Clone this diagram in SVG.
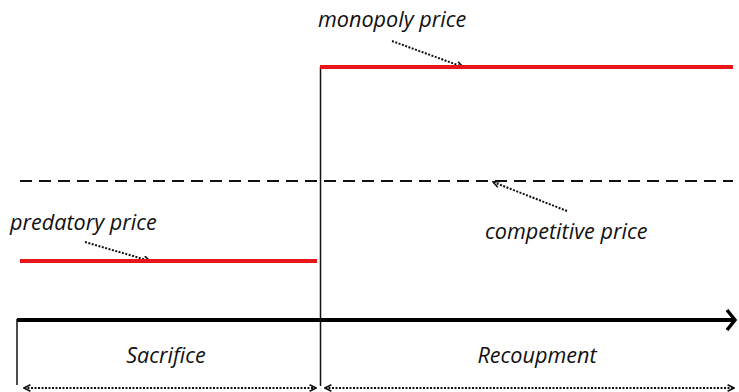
<svg xmlns="http://www.w3.org/2000/svg" width="739" height="392" viewBox="0 0 739 392">
<style>
.lbl{font-family:"Open Sans","Liberation Sans",sans-serif;font-style:italic;font-size:21.6px;fill:#111}
.red{stroke:#e8161b;stroke-width:4;fill:none}
.thin{stroke:#111;stroke-width:1.5;fill:none}
.dot{stroke:#111;stroke-width:2;stroke-dasharray:2 1.5;fill:none}
</style>
<defs>
<marker id="ah" viewBox="0 0 10 10" refX="9" refY="5" markerWidth="4" markerHeight="4" orient="auto-start-reverse" markerUnits="strokeWidth">
<path d="M1,1 L9,5 L1,9" fill="none" stroke="#111" stroke-width="2"/>
</marker>
<marker id="ax" viewBox="0 0 12 24" refX="10" refY="12" markerWidth="12" markerHeight="24" orient="auto" markerUnits="userSpaceOnUse">
<path d="M2,2 L10,12 L2,22" fill="none" stroke="#000" stroke-width="3.5"/>
</marker>
</defs>
<rect width="739" height="392" fill="#fff"/>
<g id="connectors">
<line id="axis" x1="17" y1="320" x2="735" y2="320" stroke="#000" stroke-width="4" marker-end="url(#ax)"/>
<line x1="17" y1="319" x2="17" y2="385" class="thin"/>
<line x1="320.5" y1="67" x2="320.5" y2="386" class="thin"/>
<line x1="20" y1="181" x2="733" y2="181" stroke="#111" stroke-width="2" stroke-dasharray="12 7"/>
<line x1="24" y1="388" x2="316" y2="388" class="dot" marker-start="url(#ah)" marker-end="url(#ah)"/>
<line x1="325" y1="388" x2="734" y2="388" class="dot" marker-start="url(#ah)" marker-end="url(#ah)"/>
<line x1="85" y1="242" x2="150" y2="261" class="dot" marker-end="url(#ah)"/>
<line x1="392" y1="41" x2="463" y2="67" class="dot" marker-end="url(#ah)"/>
<line x1="567" y1="211" x2="493" y2="182" class="dot" marker-end="url(#ah)"/>
</g>
<g id="monopoly">
<line x1="320" y1="67" x2="733" y2="67" class="red"/>
<text x="318" y="27" class="lbl">monopoly price</text>
</g>
<g id="predatory">
<line x1="20" y1="261" x2="317" y2="261" class="red"/>
<text x="10" y="230" class="lbl">predatory price</text>
</g>
<g id="competitive">
<text x="485" y="239" class="lbl">competitive price</text>
</g>
<g id="sacrifice">
<text x="166" y="363" class="lbl" text-anchor="middle">Sacrifice</text>
</g>
<g id="recoupment">
<text x="537" y="363" class="lbl" text-anchor="middle">Recoupment</text>
</g>
</svg>
